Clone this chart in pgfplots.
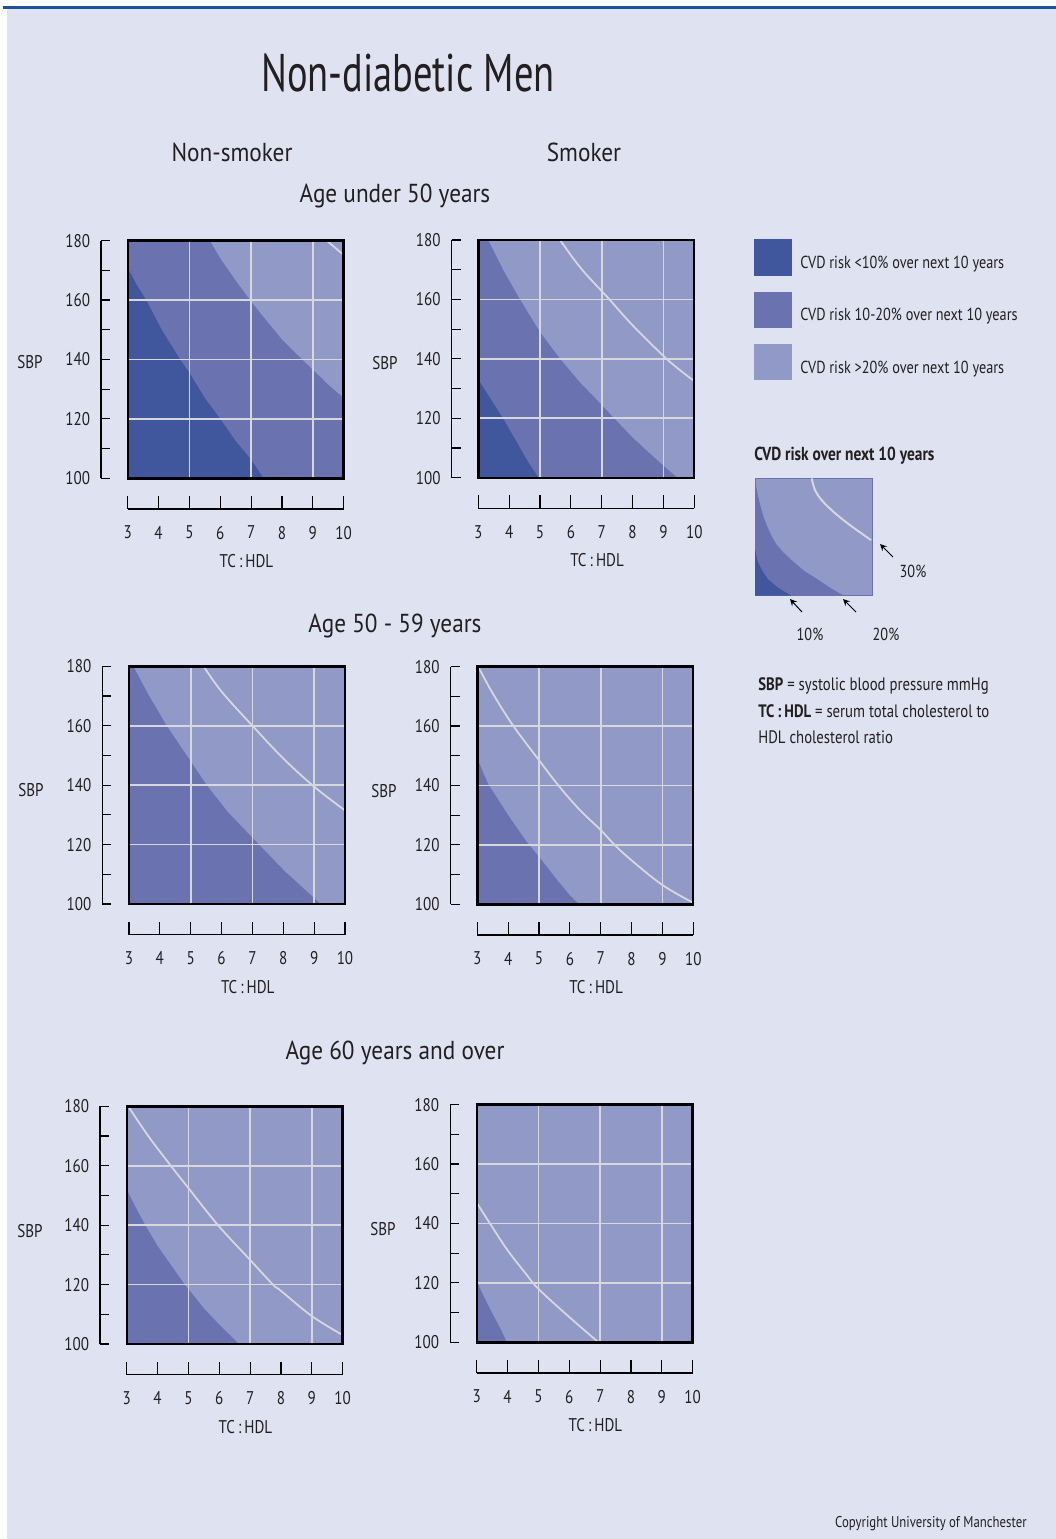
\documentclass[border=0pt]{standalone}
\usepackage{fontspec}
\setmainfont{PT Sans}[FakeStretch=0.82]
\usepackage{pgfplots}
\pgfplotsset{compat=1.18}
\definecolor{darkc}{RGB}{64,87,158}
\definecolor{medc}{RGB}{106,114,176}
\definecolor{lightc}{RGB}{145,153,199}
\definecolor{bgc}{RGB}{223,226,240}
\definecolor{gridc}{RGB}{215,215,222}
\definecolor{topblue}{RGB}{25,85,155}
\definecolor{txt}{RGB}{35,31,32}
\newcommand\ticksize{\fontsize{9.2}{10}\selectfont}
\pgfplotsset{
  /pgf/number format/assume math mode=true,
  panel/.style={
    scale only axis, width=108pt, height=118.85pt, anchor=south west,
    xmin=3, xmax=10, ymin=100, ymax=180,
    xtick={5,7,9}, ytick={120,140,160},
    xticklabels={}, yticklabels={},
    major tick length=0pt,
    grid=major, grid style={draw=gridc, line width=0.9pt},
    axis line style={draw=black, line width=1.2pt},
    axis background/.style={fill=lightc},
    axis on top,
  },
  yax/.style={
    scale only axis, width=10pt, height=118.85pt, anchor=south west,
    xmin=0, xmax=1, ymin=100, ymax=180,
    axis x line=none, axis y line*=left,
    ytick={100,120,...,180}, minor ytick={110,130,150,170},
    tick align=inside, major tick length=4.5pt, minor tick length=4.5pt,
    tick style={draw=black, line width=0.6pt},
    axis line style={draw=black, line width=0.6pt},
    yticklabel style={font=\ticksize, text=txt, xshift=-2pt},
  },
  xax/.style={
    scale only axis, width=108pt, height=10pt, anchor=south west,
    xmin=3, xmax=10, ymin=0, ymax=1,
    axis y line=none, axis x line*=bottom,
    xtick={3,...,10},
    tick align=inside, major tick length=6.5pt,
    tick style={draw=black, line width=0.6pt},
    axis line style={draw=black, line width=0.6pt},
    xticklabel style={font=\ticksize, text=txt, yshift=-5pt},
    xlabel={TC\,:\,HDL},
    xlabel style={at={(axis description cs:0.55,0)}, anchor=north, inner sep=0pt, yshift=-22.5pt, font=\ticksize, text=txt},
  },
  regmed/.style={fill=medc, draw=none},
  regdark/.style={fill=darkc, draw=none},
  line30/.style={draw=gridc, line width=0.9pt, smooth, tension=0.6},
}
\tikzset{head/.style={text=txt, font=\fontsize{13}{15}\selectfont, xscale=1.09}}
\begin{document}
\begin{tikzpicture}
\path (0pt,0pt) rectangle (528pt,-769.5pt);
\fill[bgc] (3.5pt,-4.5pt) rectangle (528pt,-769.5pt);
\fill[topblue] (1.5pt,-3pt) rectangle (528pt,-4.6pt);

% titles
\node[text=txt, font=\fontsize{26.5}{30}\selectfont, xscale=0.885] at (204pt,-36.5pt) {Non-diabetic Men};
\node[head] at (116pt,-76pt) {Non-smoker};
\node[head] at (292pt,-76pt) {Smoker};
\node[head] at (197.5pt,-98pt) {Age under 50 years};
\node[head] at (197.5pt,-313pt) {Age 50 - 59 years};
\node[head] at (197.5pt,-526.5pt) {Age 60 years and over};

% SBP labels
\foreach \p in {{15pt,-181pt},{192.5pt,-181.5pt},{15.5pt,-395pt},{192pt,-395.5pt},{15pt,-615.5pt},{191.5pt,-614.5pt}}
  \node[text=txt, font=\ticksize] at (\p) {SBP};

% ===== Panel 1: non-smoker, under 50
\begin{axis}[panel, at={(63.85pt,-239.15pt)}]
\addplot[regmed] coordinates {(3,100) (3,180) (5.66,180) (6,174) (6.5,166.5) (7,159.5) (7.5,153) (8,146.7) (8.6,140.5) (9,136.5) (9.5,131.5) (10,127) (10,100)} -- cycle;
\addplot[regdark] coordinates {(3,100) (3,170.7) (3.3,165) (3.6,160) (4.1,150) (4.7,140) (5,135.5) (5.5,127) (6,120) (6.5,112.5) (7,106.3) (7.4,100)} -- cycle;
\addplot[line30] coordinates {(9.45,180) (9.7,177.8) (10,175.2)};
\end{axis}
\begin{axis}[yax, at={(50.55pt,-239.15pt)}]\end{axis}
\begin{axis}[xax, at={(63.85pt,-254.45pt)}]\end{axis}

% ===== Panel 2: smoker, under 50
\begin{axis}[panel, at={(239.15pt,-238.85pt)}]
\addplot[regmed] coordinates {(3,100) (3,180) (3.32,180) (3.8,170) (4.35,160) (5,149) (5.65,140) (6.3,132) (7,124.5) (7.4,120) (8,113.5) (8.5,108.7) (9,104) (9.45,100)} -- cycle;
\addplot[regdark] coordinates {(3,100) (3,133) (3.4,126.5) (3.8,120) (4.3,111) (4.6,105.5) (4.95,100)} -- cycle;
\addplot[line30] coordinates {(5.65,180) (6.3,170.8) (7,162.8) (7.25,160) (8,151.3) (9,141) (9.5,136.5) (10,132.5)};
\end{axis}
\begin{axis}[yax, at={(225.85pt,-238.85pt)}]\end{axis}
\begin{axis}[xax, at={(239.15pt,-254.15pt)}]\end{axis}

% ===== Panel 3: non-smoker, 50-59
\begin{axis}[panel, at={(64.5pt,-452pt)}]
\addplot[regmed] coordinates {(3,100) (3,180) (3.14,180) (3.6,171) (4.22,160) (5,148) (5.52,140) (6.2,131) (7,122.3) (8,111.5) (9,102) (9.2,100)} -- cycle;
\addplot[line30] coordinates {(5.42,180) (6,171.5) (7,160) (8,149) (9,139.5) (10,131.5)};
\end{axis}
\begin{axis}[yax, at={(51.2pt,-452pt)}]\end{axis}
\begin{axis}[xax, at={(64.5pt,-467.3pt)}]\end{axis}

% ===== Panel 4: smoker, 50-59
\begin{axis}[panel, at={(238.65pt,-452.15pt)}]
\addplot[regmed] coordinates {(3,100) (3,149) (3.35,140.5) (4,130) (4.6,121) (5,116) (5.6,108) (6,103) (6.3,100)} -- cycle;
\addplot[line30] coordinates {(3.03,180) (3.5,171) (4.17,160) (5,148.5) (5.63,140) (6.3,132) (7,125) (7.45,120) (8,114.8) (9,106.5) (10,100.5)};
\end{axis}
\begin{axis}[yax, at={(225.35pt,-452.15pt)}]\end{axis}
\begin{axis}[xax, at={(238.65pt,-467.45pt)}]\end{axis}

% ===== Panel 5: non-smoker, 60+
\begin{axis}[panel, at={(63.35pt,-672pt)}]
\addplot[regmed] coordinates {(3,100) (3,152) (3.3,145.8) (3.6,140) (4,133) (4.88,120) (5,118.5) (5.5,112) (6,106.5) (6.64,100)} -- cycle;
\addplot[line30] coordinates {(3.05,180) (3.7,170) (4.43,160) (5,152.5) (5.96,140) (7,128.3) (7.74,120) (8,117.9) (9,109.4) (10,103)};
\end{axis}
\begin{axis}[yax, at={(50.05pt,-672pt)}]\end{axis}
\begin{axis}[xax, at={(63.35pt,-687.3pt)}]\end{axis}

% ===== Panel 6: smoker, 60+
\begin{axis}[panel, at={(238.35pt,-671.15pt)}]
\addplot[regmed] coordinates {(3,100) (3,120.5) (3.25,115) (3.49,110) (3.75,105) (3.98,100)} -- cycle;
\addplot[line30] coordinates {(3,147) (3.43,140) (4,131) (4.6,123) (5,118) (6,108.5) (6.95,100)};
\end{axis}
\begin{axis}[yax, at={(225.05pt,-671.15pt)}]\end{axis}
\begin{axis}[xax, at={(238.35pt,-686.45pt)}]\end{axis}

% ===== Legend
\fill[darkc] (377pt,-119.65pt) rectangle (395.85pt,-137.85pt);
\fill[medc] (377pt,-145.85pt) rectangle (395.85pt,-163.85pt);
\fill[lightc] (377pt,-172pt) rectangle (395.85pt,-190.15pt);
\node[anchor=west, inner sep=0pt, text=txt, font=\fontsize{8.7}{10}\selectfont] at (400pt,-132pt) {CVD risk <10\% over next 10 years};
\node[anchor=west, inner sep=0pt, text=txt, font=\fontsize{8.7}{10}\selectfont] at (400pt,-158pt) {CVD risk 10-20\% over next 10 years};
\node[anchor=west, inner sep=0pt, text=txt, font=\fontsize{8.7}{10}\selectfont] at (400pt,-184.5pt) {CVD risk >20\% over next 10 years};

% ===== Inset
\node[anchor=west, inner sep=0pt, text=txt, font=\bfseries\fontsize{9.4}{11}\selectfont] at (377pt,-228pt) {CVD risk over next 10 years};
\begin{axis}[scale only axis, width=58.85pt, height=58.65pt, anchor=south west, at={(377.5pt,-297.85pt)},
  xmin=0, xmax=1, ymin=0, ymax=1, ticks=none,
  axis line style={draw=medc, line width=0.5pt}, axis background/.style={fill=lightc}]
\addplot[regmed] coordinates {(0,0) (0,1) (0.01,0.93) (0.025,0.85) (0.05,0.75) (0.075,0.665) (0.105,0.588) (0.14,0.51) (0.18,0.44) (0.24,0.37) (0.31,0.304) (0.42,0.21) (0.54,0.134) (0.65,0.06) (0.756,0)} -- cycle;
\addplot[regdark] coordinates {(0,0) (0,0.40) (0.02,0.30) (0.057,0.22) (0.11,0.14) (0.184,0.077) (0.25,0.035) (0.31,0)} -- cycle;
\addplot[line30, line width=1pt] coordinates {(0.482,1) (0.51,0.90) (0.567,0.815) (0.666,0.716) (0.807,0.602) (0.986,0.474)};
\end{axis}
\draw[->, >=stealth, line width=0.5pt, black] (446.5pt,-278.5pt) -- (440pt,-272pt);
\draw[->, >=stealth, line width=0.5pt, black] (401pt,-306pt) -- (395pt,-299.5pt);
\draw[->, >=stealth, line width=0.5pt, black] (428pt,-306pt) -- (421.5pt,-299.5pt);
\node[text=txt, font=\fontsize{8.7}{10}\selectfont] at (456.5pt,-285.5pt) {30\%};
\node[text=txt, font=\fontsize{8.7}{10}\selectfont] at (405pt,-317pt) {10\%};
\node[text=txt, font=\fontsize{8.7}{10}\selectfont] at (443pt,-317pt) {20\%};

% ===== Definitions
\node[anchor=west, inner sep=0pt, text=txt, font=\fontsize{9}{10}\selectfont] at (379pt,-343pt) {\textbf{SBP} {=} systolic blood pressure mmHg};
\node[anchor=west, inner sep=0pt, text=txt, font=\fontsize{9}{10}\selectfont] at (379pt,-355.5pt) {\textbf{TC\,:\,HDL} {=} serum total cholesterol to};
\node[anchor=west, inner sep=0pt, text=txt, font=\fontsize{9}{10}\selectfont] at (379pt,-368.5pt) {HDL cholesterol ratio};

% ===== Copyright
\node[anchor=east, inner sep=0pt, text=txt, font=\fontsize{7.8}{9}\selectfont] at (513.5pt,-762pt) {Copyright University of Manchester};
\end{tikzpicture}
\end{document}
